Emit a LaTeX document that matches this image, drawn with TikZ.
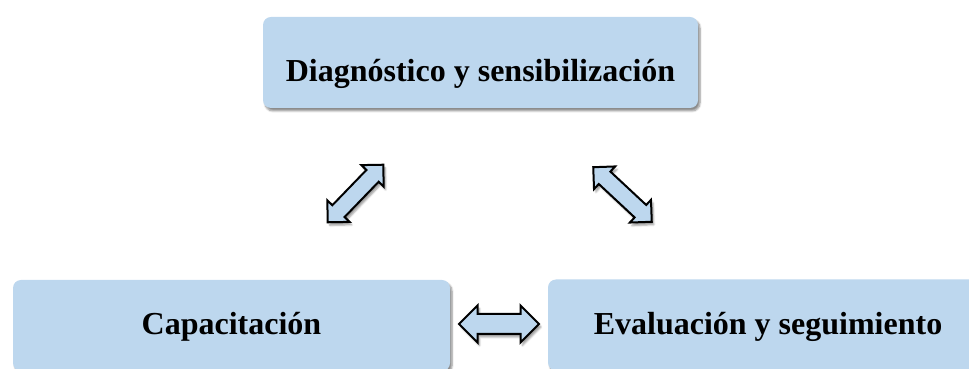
\documentclass[tikz,border=0pt]{standalone}
\usepackage{fontspec}
\setmainfont{Liberation Serif}
\usetikzlibrary{shapes.arrows,shadows.blur}
\definecolor{boxblue}{RGB}{189,215,238}

\begin{document}
\begin{tikzpicture}[x=1pt,y=1pt]
\tikzstyle{stage}=[rectangle,rounded corners=8pt,fill=boxblue,minimum height=91pt,inner sep=0pt,
  font=\fontsize{32}{38}\selectfont\bfseries,text depth=0pt,
  blur shadow={shadow xshift=2pt,shadow yshift=-3pt,shadow blur steps=6,shadow opacity=45}]
\tikzstyle{twoway}=[double arrow,draw=black,line width=2pt,fill=boxblue,inner sep=0pt,
  minimum height=80pt,minimum width=0pt,double arrow head indent=0pt,
  blur shadow={shadow xshift=2pt,shadow yshift=-3pt,shadow blur steps=4,shadow opacity=40}]
\useasboundingbox (0,0) rectangle (969,369);
\clip (0,0) rectangle (969,369);
\node[stage,minimum width=435pt,text height=39pt] (S_1) at (480.5,306.5) {Diagnóstico y sensibilización};
\node[stage,minimum width=437pt,text height=19pt] (S_2) at (231.5,43.5)  {Capacitación};
\node[stage,minimum width=440pt,text height=19pt] (S_3) at (768,44)      {Evaluación y seguimiento};
\node[twoway,text height=7.5pt,text depth=7.5pt,double arrow head extend=7pt,rotate=46]  (A_1) at (355.5,175.5) {};
\node[twoway,text height=7.5pt,text depth=7.5pt,double arrow head extend=7pt,rotate=-43] (A_2) at (622.5,174.5) {};
\node[twoway,text height=9pt,text depth=9pt,double arrow head extend=8.5pt]             (A_3) at (499,45)      {};
\end{tikzpicture}
\end{document}
